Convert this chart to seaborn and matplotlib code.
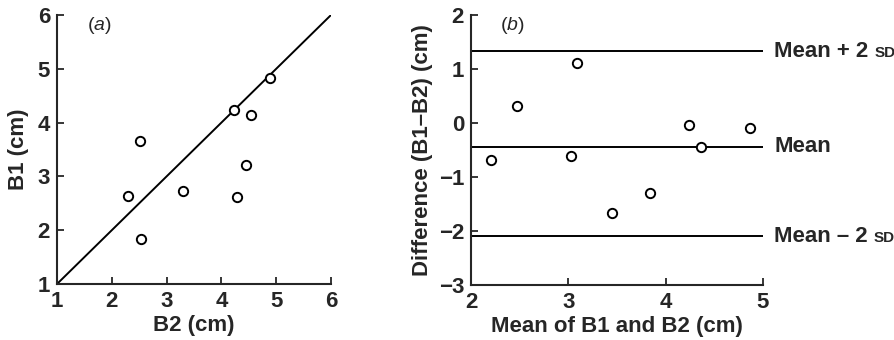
import matplotlib
matplotlib.use("Agg")
import matplotlib.pyplot as plt
import seaborn as sns
import pandas as pd
from matplotlib.offsetbox import TextArea, HPacker, AnnotationBbox

sns.set_style("ticks")
plt.rcParams['font.family'] = ['Liberation Sans', 'DejaVu Sans']
plt.rcParams['mathtext.fontset'] = 'custom'
plt.rcParams['mathtext.it'] = 'Liberation Sans:italic'
plt.rcParams['mathtext.rm'] = 'Liberation Sans'

# Panel (a): B2 vs B1
b2 = [2.29, 2.51, 2.53, 3.30, 4.23, 4.28, 4.45, 4.54, 4.89]
b1 = [2.63, 3.65, 1.84, 2.72, 4.24, 2.62, 3.21, 4.14, 4.82]
identity = [1, 6]

# Panel (b): Bland-Altman
mean_b = [2.21, 2.47, 3.03, 3.09, 3.45, 3.84, 4.24, 4.36, 4.87]
diff_b = [-0.69, 0.31, -0.62, 1.12, -1.67, -1.29, -0.03, -0.44, -0.10]
ref_values = [1.33, -0.44, -2.10]
ref_labels = [("Mean + 2 ", "SD"), ("Mean", ""), ("Mean \u2013 2 ", "SD")]

xticks_a = [1, 2, 3, 4, 5, 6]
yticks_a = [1, 2, 3, 4, 5, 6]
xticks_b = [2, 3, 4, 5]
yticks_b = [-3, -2, -1, 0, 1, 2]

FS = 16
W = 'bold'

fig = plt.figure(figsize=(8.94, 3.4), dpi=100)
axa = fig.add_axes([57/894, 1-284/340, (331-57)/894, (284-15)/340])
axb = fig.add_axes([471/894, 1-285/340, (763-471)/894, (285-15)/340])

dfa = pd.DataFrame({"B2": b2, "B1": b1})
dfb = pd.DataFrame({"m": mean_b, "d": diff_b})

axa.plot(identity, identity, color='black', lw=1.4, zorder=1)
sns.scatterplot(data=dfa, x="B2", y="B1", ax=axa, marker='o', s=45,
                facecolor='white', edgecolor='black', linewidth=1.4, zorder=3)
sns.scatterplot(data=dfb, x="m", y="d", ax=axb, marker='o', s=45,
                facecolor='white', edgecolor='black', linewidth=1.4, zorder=3)
for v in ref_values:
    axb.axhline(v, color='black', lw=1.4, zorder=1)

for ax in (axa, axb):
    sns.despine(ax=ax)
    for sp in ('left', 'bottom'):
        ax.spines[sp].set_linewidth(1.5)
    ax.tick_params(direction='in', length=5, width=1.3, labelsize=FS, pad=5)

axa.set_xlim(1, 6); axa.set_ylim(1, 6)
axa.set_xticks(xticks_a); axa.set_yticks(yticks_a)
axa.set_xticklabels([str(t) for t in xticks_a], fontweight=W, fontsize=FS)
axa.set_yticklabels([str(t) for t in yticks_a], fontweight=W, fontsize=FS)
axa.set_xlabel("B2 (cm)", fontsize=FS, fontweight=W, labelpad=2)
axa.set_ylabel("B1 (cm)", fontsize=FS, fontweight=W, labelpad=6)
axa.text(0.11, 1.0, r"($\it{a}$)", transform=axa.transAxes, fontsize=FS-2,
         va='top', ha='left')

axb.set_xlim(2, 5); axb.set_ylim(-3, 2)
axb.set_xticks(xticks_b); axb.set_yticks(yticks_b)
axb.set_xticklabels([str(t) for t in xticks_b], fontweight=W, fontsize=FS)
axb.set_yticklabels([("\u2212" + str(-t)) if t < 0 else str(t) for t in yticks_b],
                    fontweight=W, fontsize=FS)
axb.set_xlabel("Mean of B1 and B2 (cm)", fontsize=FS, fontweight=W, labelpad=2)
axb.set_ylabel("Difference (B1\u2013B2) (cm)", fontsize=FS, fontweight=W, labelpad=4)
axb.text(0.10, 1.0, r"($\it{b}$)", transform=axb.transAxes, fontsize=FS-2,
         va='top', ha='left')

for v, (main, small) in zip(ref_values, ref_labels):
    parts = [TextArea(main, textprops=dict(fontsize=FS, fontweight=W))]
    if small:
        parts.append(TextArea(small, textprops=dict(fontsize=FS-5, fontweight=W)))
    pk = HPacker(children=parts, align='baseline', pad=0, sep=0)
    ab = AnnotationBbox(pk, (1.0, v), xycoords=('axes fraction', 'data'),
                        xybox=(8, 0), boxcoords='offset points',
                        box_alignment=(0, 0.5), frameon=False,
                        annotation_clip=False)
    axb.add_artist(ab)

fig.savefig("out.png", dpi=100)
